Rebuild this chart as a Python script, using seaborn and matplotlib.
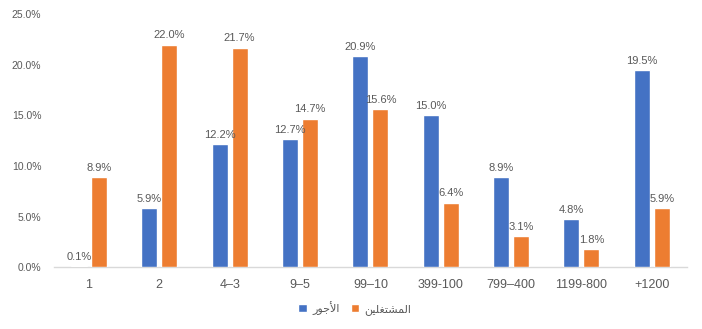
import matplotlib
matplotlib.use("Agg")
import matplotlib.pyplot as plt
import matplotlib.ticker as mticker
import pandas as pd
import seaborn as sns

# Size classes (number of employees)
categories = ["1", "2", "4–3", "9–5", "99–10", "399-100", "799–400", "1199-800", "+1200"]

# Share of total wages and of employed persons, in percent
wages = [0.1, 5.9, 12.2, 12.7, 20.9, 15.0, 8.9, 4.8, 19.5]
employed = [8.9, 22.0, 21.7, 14.7, 15.6, 6.4, 3.1, 1.8, 5.9]

# Series names written with Arabic presentation forms in visual order,
# since matplotlib does no shaping or bidi reordering on its own.
name_wages = "\ufead\ufeee\ufe9f\ufef7\ufe8d"  # الأجور
name_employed = "\ufee6\ufef4\ufee0\ufed0\ufe98\ufeb8\ufee4\ufedf\ufe8d"  # المشتغلين

y_ticks = [0, 5, 10, 15, 20, 25]

df = pd.DataFrame({
    "category": categories * 2,
    "value": wages + employed,
    "series": [name_wages] * len(categories) + [name_employed] * len(categories),
})

sns.set_theme(style="white")
plt.rcParams["font.family"] = ["Liberation Sans", "DejaVu Sans"]

text_color = "#595959"
fig = plt.figure(figsize=(7.02, 3.29), dpi=100)
ax = fig.add_axes([0.0766, 0.187, 0.902, 0.770])

sns.barplot(
    data=df, x="category", y="value", hue="series",
    order=categories, hue_order=[name_wages, name_employed],
    palette=["#4472C4", "#ED7D31"], width=0.568, gap=0.2,
    saturation=1, ax=ax, legend=True, zorder=3,
)

for cont in ax.containers:
    ax.bar_label(cont, fmt="%.1f%%", padding=3, fontsize=8, color=text_color)

ax.set_ylim(0, 25)
ax.set_yticks(y_ticks)
ax.yaxis.set_major_formatter(mticker.FuncFormatter(lambda v, p: f"{v:.1f}%"))
ax.set_xlim(-0.5, len(categories) - 0.5)
ax.set_xlabel("")
ax.set_ylabel("")
ax.grid(False)

for side in ["top", "right", "left"]:
    ax.spines[side].set_visible(False)
ax.spines["bottom"].set_color("#D9D9D9")
ax.spines["bottom"].set_linewidth(1)
ax.spines["bottom"].set_zorder(1)

ax.tick_params(axis="x", length=0, pad=8, labelsize=9, labelcolor=text_color)
ax.tick_params(axis="y", length=0, pad=9, labelsize=7.5, labelcolor=text_color)

handles, labels = ax.get_legend_handles_labels()
ax.legend_.remove()
fig.legend(
    handles, labels, loc="center", bbox_to_anchor=(355 / 702, 1 - 308 / 329),
    ncol=2, frameon=False, fontsize=8, labelcolor=text_color,
    handlelength=0.75, handleheight=0.75, handletextpad=0.5, columnspacing=1.0,
)

fig.savefig("out.png", dpi=100)
